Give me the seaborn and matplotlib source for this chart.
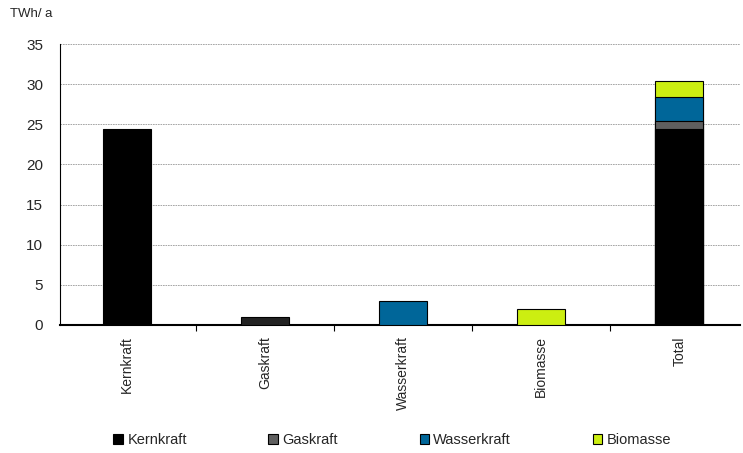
import matplotlib
matplotlib.use("Agg")
import matplotlib.pyplot as plt
import seaborn as sns
import pandas as pd
from matplotlib.patches import Patch

categories = ["Kernkraft", "Gaskraft", "Wasserkraft", "Biomasse", "Total"]
series = ["Kernkraft", "Gaskraft", "Wasserkraft", "Biomasse"]
values = [24.4, 1.0, 2.95, 2.0]
colors = {"Kernkraft": "#000000", "Gaskraft": "#5f5f5f",
          "Wasserkraft": "#006699", "Biomasse": "#ccee11"}
yticks = [0, 5, 10, 15, 20, 25, 30, 35]

rows = []
cum = 0.0
for s, v in zip(series, values):
    cum += v
    rows.append({"cat": s, "series": s, "val": v})
    rows.append({"cat": "Total", "series": s, "val": cum})
df = pd.DataFrame(rows)

sns.set_style("white")
plt.rcParams["font.family"] = ["Liberation Sans", "DejaVu Sans"]

fig = plt.figure(figsize=(7.43, 4.53), dpi=100)
ax = fig.add_axes([60 / 743, (453 - 325) / 453, 680 / 743, (325 - 44) / 453])

sns.barplot(data=df, x="cat", y="val", hue="series", order=categories,
            hue_order=series[::-1], palette=colors, dodge=False, width=0.35,
            saturation=1, edgecolor="black", linewidth=0.8, legend=False,
            ax=ax, zorder=3)

# darker single gas bar
for bar in ax.patches:
    x = bar.get_x() + bar.get_width() / 2
    if abs(x - 1) < 0.3:
        bar.set_facecolor("#222222")

ax.set_ylim(0, 35)
ax.set_yticks(yticks)
ax.set_xlim(-0.486, 4.44)
ax.yaxis.grid(True, color="#999999", linestyle=(0, (2, 1)), linewidth=0.6, zorder=0)
ax.xaxis.grid(False)
for s in ["top", "right"]:
    ax.spines[s].set_visible(False)
ax.spines["left"].set_color("black")
ax.spines["left"].set_linewidth(0.8)
ax.spines["bottom"].set_color("black")
ax.spines["bottom"].set_linewidth(1.5)

ax.set_xticks(range(len(categories)))
ax.set_xticklabels(categories, rotation=90, fontsize=10)
ax.tick_params(axis="x", length=0, pad=8)
ax.set_xticks([0.5, 1.5, 2.5, 3.5], minor=True)
ax.tick_params(axis="x", which="minor", length=4, width=0.8, color="black",
               direction="out", bottom=True)
ax.tick_params(axis="y", length=0, labelsize=11, pad=12)
ax.set_xlabel("")
ax.set_ylabel("")

fig.text(10 / 743, 1 - 14 / 453, "TWh/ a", fontsize=9.5, va="center", ha="left")

handles = [Patch(facecolor=colors[s], edgecolor="black", linewidth=0.8, label=s)
           for s in series]
fig.legend(handles=handles, loc="center", bbox_to_anchor=(0.528, 1 - 440 / 453),
           ncol=4, frameon=False, fontsize=10.5, columnspacing=5.6,
           handlelength=0.65, handleheight=0.65, handletextpad=0.3)

fig.savefig("out.png", dpi=100)
